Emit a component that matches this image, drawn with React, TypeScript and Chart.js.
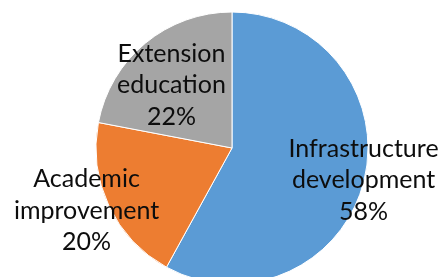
import React, { useEffect, useRef } from "react";
import { Chart, registerables } from "chart.js";

Chart.register(...registerables);

const categories = ["Infrastructure development", "Academic improvement", "Extension education"];
const labelLines = [
  ["Infrastructure", "development"],
  ["Academic", "improvement"],
  ["Extension", "education"],
];
const shares = [58, 20, 22];
const colors = ["#5B9BD5", "#ED7D31", "#A5A5A5"];

// label placement, relative to each slice: radial factor (x radius) and angle tweak (deg)
const labelRadial = [1.012, 1.19, 0.6];
const labelAngleTweak = [2.7, -0.8, -8.3];

const FONT = "25px Lato";
const LINE = 31.5;

const labelPlugin = {
  id: "sliceLabels",
  afterDatasetsDraw(chart: any) {
    const ctx = chart.ctx;
    const meta = chart.getDatasetMeta(0);
    const data = chart.data.datasets[0].data as number[];
    const total = data.reduce((a, b) => a + b, 0);
    ctx.save();
    ctx.font = FONT;
    ctx.fillStyle = "#0d0d0d";
    ctx.textAlign = "center";
    ctx.textBaseline = "alphabetic";
    meta.data.forEach((arc: any, i: number) => {
      const p = arc.getProps(["x", "y", "startAngle", "endAngle", "outerRadius"], true);
      const mid = (p.startAngle + p.endAngle) / 2 + (labelAngleTweak[i] * Math.PI) / 180;
      const r = p.outerRadius * labelRadial[i];
      const x = p.x + Math.cos(mid) * r;
      const y = p.y + Math.sin(mid) * r;
      const lines = [...labelLines[i], Math.round((data[i] / total) * 100) + "%"];
      lines.forEach((t, k) => {
        ctx.fillText(t, x, y + (k - 1) * LINE);
      });
    });
    ctx.restore();
  },
};

export default function App() {
  const ref = useRef<HTMLCanvasElement | null>(null);
  useEffect(() => {
    document.body.style.margin = "0";
    if (!ref.current) return;
    const chart = new Chart(ref.current, {
      type: "pie",
      data: {
        labels: categories,
        datasets: [
          {
            data: shares,
            backgroundColor: colors,
            borderColor: "#ffffff",
            borderWidth: 1,
            clip: false as any,
          },
        ],
      },
      options: {
        animation: false,
        responsive: true,
        maintainAspectRatio: false,
        radius: 136,
        layout: { padding: { left: 21, right: 0, top: 19, bottom: 0 } },
        plugins: {
          legend: { display: false },
          tooltip: { enabled: false },
        },
      } as any,
      plugins: [labelPlugin],
    });
    return () => chart.destroy();
  }, []);
  return (
    <div style={{ width: 443, height: 277, position: "relative" }}>
      <canvas ref={ref} />
    </div>
  );
}
